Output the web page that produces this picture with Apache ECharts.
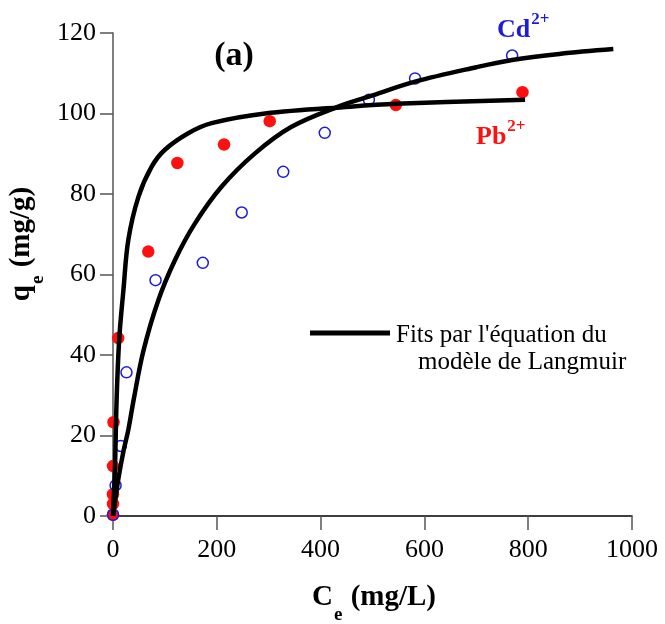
<!DOCTYPE html>
<html>
<head>
<meta charset="utf-8">
<script src="https://cdn.jsdelivr.net/npm/echarts@6/dist/echarts.min.js"></script>
<style>
    html, body {margin: 0; padding: 0; background: #fff;}
    #main {width: 665px; height: 624px;}
</style>
</head>
<body>
<div id="main"></div>
<script>
// axes
var xTicks = [0, 200, 400, 600, 800, 1000];
var yTicks = [0, 20, 40, 60, 80, 100, 120];

// Pb2+ mesures (Ce, qe)
var pbCe = [0, 0, 0, 0, 1, 10, 68, 124, 214, 302, 545, 789];
var pbQe = [0.3, 3, 5.4, 12.4, 23.3, 44.2, 65.7, 87.7, 92.3, 98.1, 102.1, 105.3];

// Cd2+ mesures (Ce, qe)
var cdCe = [0, 5, 15, 26, 82, 173, 248, 328, 408, 493, 582, 769];
var cdQe = [0.3, 7.6, 17.4, 35.7, 58.6, 62.9, 75.4, 85.5, 95.2, 103.4, 108.7, 114.4];

// courbes Langmuir
var pbFitCe = [0, 2, 4, 7, 12, 20, 29.5, 49, 74.5, 100, 145, 190, 293, 457, 545, 794];
var pbFitQe = [0, 6, 13, 29, 44, 56, 68.6, 79.3, 86.8, 91, 95.1, 97.6, 100, 101.7, 102.4, 103.4];
var cdFitCe = [0, 5, 10, 20, 29.5, 40, 58.5, 87, 119.5, 158, 209, 273.6, 344, 434, 493, 582, 700, 769, 860, 964];
var cdFitQe = [0, 4.5, 9, 16, 21.4, 29, 41, 53.5, 63.6, 72.7, 81.8, 90.1, 96.7, 101.7, 104.2, 107.9, 111.5, 113.3, 114.8, 116];

function pairs(xs, ys) {
    var out = [];
    for (var i = 0; i < xs.length; i++) {
        out.push([xs[i], ys[i]]);
    }
    return out;
}

var serif = 'Liberation Serif';
var red = '#ff1010';
var blue = '#1c1cd8';

option = {
    animation: false,
    backgroundColor: '#fff',
    textStyle: {fontFamily: serif},
    grid: {left: 113, right: 33, top: 33, bottom: 108},
    xAxis: {
        type: 'value',
        min: xTicks[0], max: xTicks[xTicks.length - 1], interval: 200,
        axisLine: {lineStyle: {color: '#000', width: 1.5}},
        axisTick: {length: 14, lineStyle: {color: '#555', width: 1.5}},
        axisLabel: {
            margin: 21, fontSize: 26, color: '#000', fontFamily: serif,
            formatter: function (v) { return String(v); }
        },
        splitLine: {show: false}
    },
    yAxis: {
        type: 'value',
        min: yTicks[0], max: yTicks[yTicks.length - 1], interval: 20,
        axisLine: {show: true, lineStyle: {color: '#555', width: 1.5}},
        axisTick: {show: true, length: 13, lineStyle: {color: '#555', width: 1.5}},
        axisLabel: {
            margin: 17, fontSize: 26, color: '#000', fontFamily: serif,
            formatter: function (v) { return String(v); }
        },
        splitLine: {show: false}
    },
    series: [
        {
            name: 'Pb fit', type: 'line', smooth: 0.35,
            showSymbol: false, symbol: 'none',
            lineStyle: {color: '#000', width: 4.5},
            data: pairs(pbFitCe, pbFitQe)
        },
        {
            name: 'Cd fit', type: 'line', smooth: 0.35,
            showSymbol: false, symbol: 'none',
            lineStyle: {color: '#000', width: 4.5},
            data: pairs(cdFitCe, cdFitQe)
        },
        {
            name: 'Pb2+', type: 'scatter', symbol: 'circle', symbolSize: 12.5, clip: false,
            itemStyle: {color: red, opacity: 1},
            data: pairs(pbCe, pbQe)
        },
        {
            name: 'Cd2+', type: 'scatter', symbol: 'circle', symbolSize: 11, clip: false,
            itemStyle: {color: 'rgba(0,0,0,0)', borderColor: blue, borderWidth: 1.5, opacity: 1},
            data: pairs(cdCe, cdQe)
        }
    ],
    graphic: [
        // titres des axes
        {
            type: 'text', x: 312, y: 598,
            style: {
                text: '{m|C}{s|e}{m| (mg/L)}',
                align: 'left', verticalAlign: 'middle',
                rich: {
                    m: {fontSize: 29, fontWeight: 'bold', fontFamily: serif, fill: '#000'},
                    s: {fontSize: 19, fontWeight: 'bold', fontFamily: serif, fill: '#000', padding: [34, 1, 0, 1]}
                }
            }
        },
        {
            type: 'text', x: 22, y: 244, rotation: Math.PI / 2,
            style: {
                text: '{m|q}{s|e}{m| (mg/g)}',
                align: 'center', verticalAlign: 'middle',
                rich: {
                    m: {fontSize: 29, fontWeight: 'bold', fontFamily: serif, fill: '#000'},
                    s: {fontSize: 19, fontWeight: 'bold', fontFamily: serif, fill: '#000', padding: [32, 1, 0, 1]}
                }
            }
        },
        // (a)
        {
            type: 'text', x: 234, y: 56,
            style: {text: '(a)', font: 'bold 34px ' + serif, fill: '#000', align: 'center', verticalAlign: 'middle'}
        },
        // étiquettes des ions
        {
            type: 'text', x: 497, y: 30,
            style: {
                text: '{m|Cd}{s|2+}',
                align: 'left', verticalAlign: 'middle',
                rich: {
                    m: {fontSize: 26, fontWeight: 'bold', fontFamily: serif, fill: blue},
                    s: {fontSize: 17, fontWeight: 'bold', fontFamily: serif, fill: blue, padding: [0, 0, 20, 1]}
                }
            }
        },
        {
            type: 'text', x: 476, y: 137,
            style: {
                text: '{m|Pb}{s|2+}',
                align: 'left', verticalAlign: 'middle',
                rich: {
                    m: {fontSize: 26, fontWeight: 'bold', fontFamily: serif, fill: red},
                    s: {fontSize: 17, fontWeight: 'bold', fontFamily: serif, fill: red, padding: [0, 0, 20, 1]}
                }
            }
        },
        // légende
        {
            type: 'line',
            shape: {x1: 310, y1: 333, x2: 390, y2: 333},
            style: {stroke: '#000', lineWidth: 5}
        },
        {
            type: 'text', x: 396, y: 335,
            style: {text: "Fits par l'équation du", font: '25px ' + serif, fill: '#000', align: 'left', verticalAlign: 'middle'}
        },
        {
            type: 'text', x: 418, y: 362,
            style: {text: 'modèle de Langmuir', font: '25px ' + serif, fill: '#000', align: 'left', verticalAlign: 'middle'}
        }
    ]
};

var myChart = echarts.init(document.getElementById('main'));
myChart.setOption(option);
</script>
</body>
</html>
